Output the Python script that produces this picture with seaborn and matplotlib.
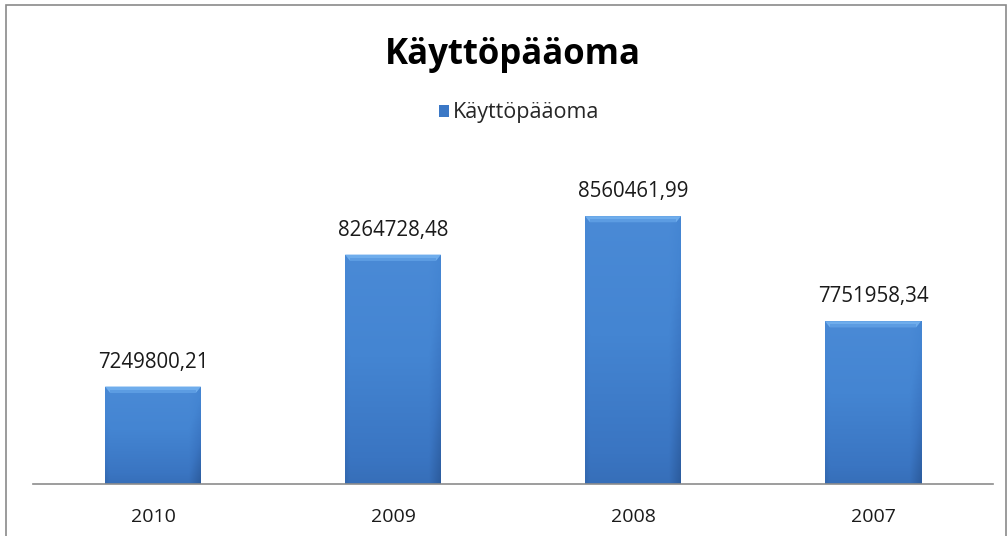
import numpy as np
import pandas as pd
import matplotlib
matplotlib.use("Agg")
import matplotlib.pyplot as plt
import seaborn as sns
from matplotlib.colors import LinearSegmentedColormap
from matplotlib.patches import Rectangle, Polygon

years = ["2010", "2009", "2008", "2007"]
values = [7249800.21, 8264728.48, 8560461.99, 7751958.34]
labels = ["7249800,21", "8264728,48", "8560461,99", "7751958,34"]
series_name = "Käyttöpääoma"
title = "Käyttöpääoma"

sns.set_theme(style="white")
plt.rcParams["font.family"] = ["Open Sans", "DejaVu Sans"]

fig = plt.figure(figsize=(10.08, 5.36), dpi=100)
ax = fig.add_axes([33/1008, 52/536, 960/1008, 325/536])

df = pd.DataFrame({"year": years, "value": values})
sns.barplot(data=df, x="year", y="value", color="#3b78c6", width=0.4, ax=ax,
            label=series_name, saturation=1)
ax.set_ylim(6500000, 9000000)
ax.set_xlim(-0.5, 3.5)

cmap = LinearSegmentedColormap.from_list("bar", ["#2c5c9e", "#3a75c2", "#4485d2", "#4a8ad6"])
ymin, ymax = ax.get_ylim()
px = (ymax - ymin) / 325.0
for p in ax.patches:
    x0, w = p.get_x(), p.get_width()
    top = p.get_y() + p.get_height()
    xx = np.linspace(0, 1, 60)
    yy = np.linspace(0, 1, 200)
    X, Y = np.meshgrid(xx, yy)
    Z = 0.25 + 0.75 * Y - 0.25 * np.clip((X - 0.88) / 0.12, 0, 1) - 0.1 * np.clip((0.05 - X) / 0.05, 0, 1)
    im = ax.imshow(Z, cmap=cmap, vmin=0, vmax=1, origin="lower", aspect="auto",
                   extent=(x0, x0 + w, ymin, top), zorder=2, interpolation="bilinear")
    im.set_clip_path(p)
    bev = 6 * px
    inset = w * 0.05
    ax.add_patch(Polygon([(x0, top), (x0 + w, top), (x0 + w - inset, top - bev), (x0 + inset, top - bev)],
                         closed=True, facecolor="#6fadec", edgecolor="none", zorder=3))
    ax.add_patch(Polygon([(x0 + inset, top - bev * 0.5), (x0 + w - inset, top - bev * 0.5),
                          (x0 + w - inset, top - bev), (x0 + inset, top - bev)],
                         closed=True, facecolor="#5c9ce2", edgecolor="none", zorder=3))
    p.set_edgecolor("none")

for i, (v, lab) in enumerate(zip(values, labels)):
    ax.annotate(lab, (i, v), xytext=(0, 10), textcoords="offset points",
                ha="center", va="bottom", fontsize=14.8, color="#1a1a1a")

for s in ["top", "right", "left"]:
    ax.spines[s].set_visible(False)
ax.spines["bottom"].set_color("#8c8c8c")
ax.spines["bottom"].set_linewidth(1.2)
ax.set_yticks([])
ax.set_xlabel("")
ax.set_ylabel("")
ax.tick_params(axis="x", length=0, pad=17, labelsize=14, labelcolor="#1a1a1a")

fig.text(513/1008, 1 - 55/536, title, ha="center", va="center", fontsize=25,
         fontweight="bold", color="#000000")
leg = ax.legend(loc="center", bbox_to_anchor=((519 - 33) / 960, (536 - 113 - 52) / 325),
                bbox_transform=ax.transAxes, frameon=False, fontsize=15.5,
                handlelength=0.45, handleheight=0.45, handletextpad=0.2)
for h in leg.legend_handles:
    h.set_facecolor("#3b78c6")

fig.patches.append(Rectangle((6/1008, -0.1), 1000/1008, 1.1 - 5/536, transform=fig.transFigure,
                             fill=False, edgecolor="#8a8a8a", linewidth=1.2))

fig.savefig("out.png", dpi=100, facecolor="white")
